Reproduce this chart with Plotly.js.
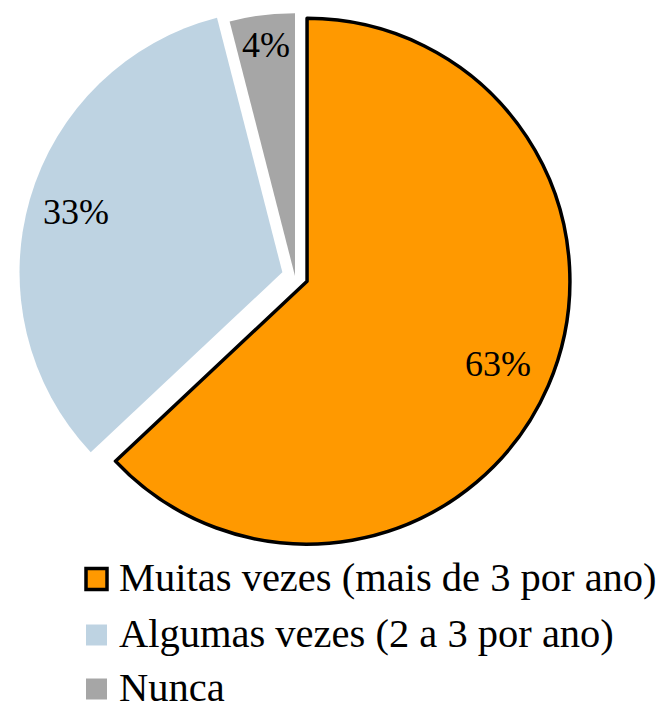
<!DOCTYPE html>
<html><head><meta charset="utf-8">
<script src="https://cdn.plot.ly/plotly-3.0.1.min.js"></script>
<style>html,body{margin:0;padding:0;background:#fff;overflow:hidden;} #chart{width:667px;height:705px;}</style>
</head><body><div id="chart"></div>
<script>
// ---- data ----
const categories = ["Muitas vezes (mais de 3 por ano)", "Algumas vezes (2 a 3 por ano)", "Nunca"];
const values = [63, 33, 4];
const sliceColors = ["#FF9900", "#BED3E2", "#A6A6A6"];
const borderColors = ["#000000", "rgba(0,0,0,0)", "rgba(0,0,0,0)"];
const borderWidths = [3.5, 0, 0];
const pulls = [0.05, 0.05, 0];

// ---- layout settings ----
const W = 667, H = 705;
const domX = [19 / 667, 571 / 667], domY = [1 - 552 / 705, 1];
const FONT = "Liberation Serif, DejaVu Serif, Times New Roman, serif";
const labelRadius = [0.79, 0.816, 0.886];
const legendRowY = [579, 635, 689];   // px from top
const legendSwatchX = 86, legendSwatchSize = 21, legendTextX = 117;

const total = values.reduce((a, b) => a + b, 0);
const boxW = W * (domX[1] - domX[0]), boxH = H * (domY[1] - domY[0]);
const maxPull = Math.max(...pulls);
const R = Math.min(boxW, boxH) / 2 / (1 + maxPull);
const cx = W * (domX[0] + domX[1]) / 2;
const cy = H * (1 - domY[0]) - boxH / 2;

const annotations = [];
const shapes = [];
let cum = 0;
values.forEach((v, i) => {
  const mid = (cum + v / 2) / total * 2 * Math.PI; cum += v;
  const dx = Math.sin(mid), dy = -Math.cos(mid);
  const r = (pulls[i] + labelRadius[i]) * R;
  annotations.push({
    xref: 'paper', yref: 'paper', x: (cx + dx * r) / W, y: 1 - (cy + dy * r) / H,
    text: Math.round(v / total * 100) + '%', showarrow: false,
    font: {family: FONT, size: 36, color: '#000'}, xanchor: 'center', yanchor: 'middle'
  });
});

categories.forEach((c, i) => {
  const yc = legendRowY[i];
  shapes.push({
    type: 'rect', xref: 'paper', yref: 'paper',
    x0: legendSwatchX / W, x1: (legendSwatchX + legendSwatchSize) / W,
    y0: 1 - (yc - legendSwatchSize / 2) / H, y1: 1 - (yc + legendSwatchSize / 2) / H,
    fillcolor: sliceColors[i],
    line: {color: borderWidths[i] ? borderColors[i] : sliceColors[i], width: borderWidths[i] || 0}
  });
  annotations.push({
    xref: 'paper', yref: 'paper', x: legendTextX / W, y: 1 - (yc - 2) / H,
    text: c, showarrow: false, xanchor: 'left', yanchor: 'middle',
    font: {family: FONT, size: 40.5, color: '#000'}
  });
});

const data = [{
  type: 'pie', labels: categories, values: values, sort: false,
  direction: 'clockwise', rotation: 0, pull: pulls,
  marker: {colors: sliceColors, line: {color: borderColors, width: borderWidths}},
  textinfo: 'none', hoverinfo: 'label+percent', showlegend: false,
  domain: {x: domX, y: domY}
}];

const layout = {
  width: W, height: H, margin: {l: 0, r: 0, t: 0, b: 0},
  paper_bgcolor: '#fff', plot_bgcolor: '#fff', showlegend: false,
  font: {family: FONT},
  annotations: annotations, shapes: shapes
};

Plotly.newPlot('chart', data, layout, {displayModeBar: false, staticPlot: true});
</script>
</body></html>
